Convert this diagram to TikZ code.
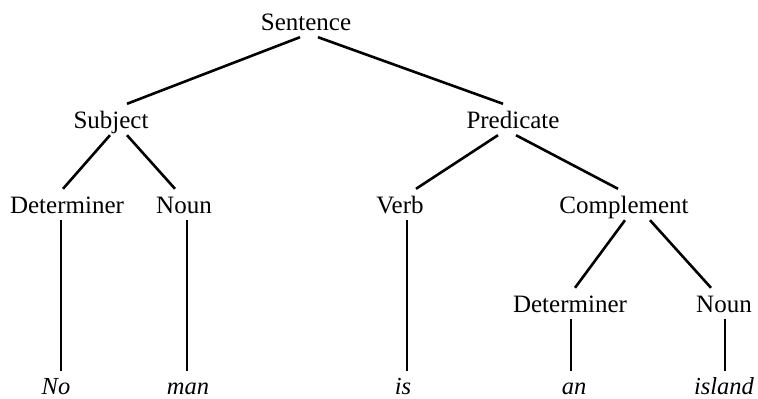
\documentclass[tikz,border=0pt]{standalone}
\usepackage{fontspec}
\setmainfont{Liberation Serif}
\tikzstyle{cat}=[anchor=base,inner xsep=2pt,inner ysep=2pt,text height=22pt,text depth=5pt,font=\fontsize{25}{28}\selectfont]
\tikzstyle{leaf}=[cat,text depth=0pt,inner ysep=1pt,font=\fontsize{24.5}{28}\selectfont\itshape]
\tikzstyle{branch}=[line width=2.6pt]

\begin{document}
\begin{tikzpicture}[x=1pt,y=-1pt]
  \useasboundingbox (0,0) rectangle (758,399);

  \node[cat] (S) at (306,30) {Sentence};
  \node[cat] (Subj) at (111,128) {Subject};
  \node[cat] (Pred) at (513,128) {Predicate};
  \node[cat] (D1) at (67,213) {Determiner};
  \node[cat] (N1) at (184,213) {Noun};
  \node[cat] (V) at (400,213) {Verb};
  \node[cat] (C) at (624,213) {Complement};
  \node[cat] (D2) at (570,312) {Determiner};
  \node[cat] (N2) at (724,312) {Noun};

  \node[leaf] (w1) at (56,394) {No};
  \node[leaf] (w2) at (188,394) {man};
  \node[leaf] (w3) at (403,394) {is};
  \node[leaf] (w4) at (574,394) {an};
  \node[leaf] (w5) at (724,394) {island};

  \draw[branch] ([xshift=-6pt]S.south)--([xshift=16pt]Subj.north);
  \draw[branch] ([xshift=12pt]S.south)--([xshift=-10pt]Pred.north);
  \draw[branch] ([xshift=-1pt]Subj.south)--([xshift=-4pt]D1.north);
  \draw[branch] ([xshift=16pt]Subj.south)--([xshift=-9pt]N1.north);
  \draw[branch] ([xshift=-15pt]Pred.south)--([xshift=16pt]V.north);
  \draw[branch] ([xshift=3pt]Pred.south)--([xshift=-6pt]C.north);
  \draw[branch] ([xshift=1pt]C.south)--([xshift=5pt]D2.north);
  \draw[branch] ([xshift=26pt]C.south)--([xshift=-13pt]N2.north);

  \draw[branch] ([xshift=-6pt]D1.south)--([xshift=5pt]w1.north);
  \draw[branch] ([xshift=3pt]N1.south)--([xshift=-1pt]w2.north);
  \draw[branch] ([xshift=7pt]V.south)--([xshift=4pt]w3.north);
  \draw[branch] ([xshift=1pt]D2.south)--([xshift=-3pt]w4.north);
  \draw[branch] ([xshift=1pt]N2.south)--([xshift=1pt]w5.north);

\end{tikzpicture}
\end{document}
